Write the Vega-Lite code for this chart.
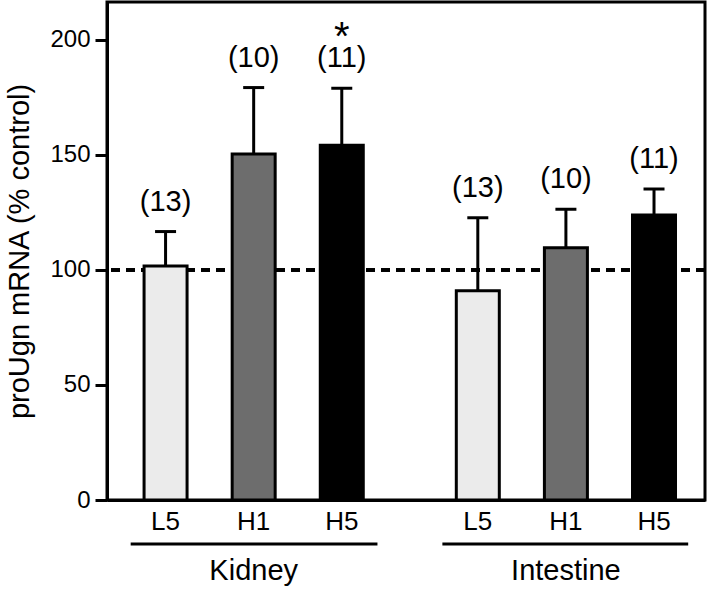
{
  "$schema": "https://vega.github.io/schema/vega-lite/v6.json",
  "width": 598,
  "height": 498,
  "autosize": {"type": "none"},
  "padding": {"left": 107, "top": 2, "right": 4, "bottom": 89},
  "background": "white",
  "config": {
    "font": "Liberation Sans",
    "view": {"stroke": "black", "strokeWidth": 3},
    "axis": {"grid": false}
  },
  "data": {
    "values": [
      {"group": "Kidney", "treatment": "L5", "pos": 0, "mean": 101.7, "upper": 116.7, "n": "(13)", "sig": ""},
      {"group": "Kidney", "treatment": "H1", "pos": 1, "mean": 150.4, "upper": 179.3, "n": "(10)", "sig": ""},
      {"group": "Kidney", "treatment": "H5", "pos": 2, "mean": 154.2, "upper": 179.0, "n": "(11)", "sig": "*"},
      {"group": "Intestine", "treatment": "L5", "pos": 3.544, "mean": 91.0, "upper": 122.7, "n": "(13)", "sig": ""},
      {"group": "Intestine", "treatment": "H1", "pos": 4.544, "mean": 109.7, "upper": 126.4, "n": "(10)", "sig": ""},
      {"group": "Intestine", "treatment": "H5", "pos": 5.544, "mean": 123.9, "upper": 135.2, "n": "(11)", "sig": ""}
    ]
  },
  "layer": [
    {
      "mark": {"type": "rule", "strokeDash": [9, 6], "strokeWidth": 3, "color": "black"},
      "encoding": {"y": {"datum": 100, "type": "quantitative"}}
    },
    {
      "mark": {"type": "bar", "stroke": "black", "strokeWidth": 3, "width": 43},
      "encoding": {
        "x": {
          "field": "pos", "type": "quantitative",
          "scale": {"domain": [-0.608, 6.066], "nice": false, "zero": false},
          "axis": {"labels": false, "ticks": false, "title": null, "domainColor": "black", "domainWidth": 3, "grid": false}
        },
        "y": {
          "field": "mean", "type": "quantitative",
          "scale": {"domain": [0, 216.5], "nice": false},
          "axis": {
            "title": "proUgn mRNA (% control)",
            "values": [0, 50, 100, 150, 200],
            "domainColor": "black", "domainWidth": 3,
            "tickColor": "black", "tickWidth": 3, "tickSize": 12,
            "labelFontSize": 24, "labelColor": "black", "labelPadding": 5,
            "titleFontSize": 29, "titleFontWeight": "normal", "titleColor": "black", "titlePadding": 15
          }
        },
        "color": {
          "field": "treatment", "type": "nominal",
          "scale": {"domain": ["L5", "H1", "H5"], "range": ["#ebebeb", "#6d6d6d", "#000000"]},
          "legend": null
        }
      }
    },
    {
      "mark": {"type": "rule", "strokeWidth": 3, "color": "black"},
      "encoding": {
        "x": {"field": "pos", "type": "quantitative"},
        "y": {"field": "mean", "type": "quantitative"},
        "y2": {"field": "upper"}
      }
    },
    {
      "mark": {"type": "tick", "orient": "horizontal", "size": 21, "thickness": 3, "color": "black", "opacity": 1},
      "encoding": {
        "x": {"field": "pos", "type": "quantitative"},
        "y": {"field": "upper", "type": "quantitative"}
      }
    },
    {
      "mark": {"type": "text", "fontSize": 29, "baseline": "alphabetic", "dy": -21, "color": "black"},
      "encoding": {
        "x": {"field": "pos", "type": "quantitative"},
        "y": {"field": "upper", "type": "quantitative"},
        "text": {"field": "n"}
      }
    },
    {
      "transform": [{"filter": "datum.sig != ''"}],
      "mark": {"type": "text", "fontSize": 40, "baseline": "alphabetic", "dy": -38, "color": "black"},
      "encoding": {
        "x": {"field": "pos", "type": "quantitative"},
        "y": {"field": "upper", "type": "quantitative"},
        "text": {"field": "sig"}
      }
    },
    {
      "mark": {"type": "text", "fontSize": 26, "baseline": "alphabetic", "color": "black"},
      "encoding": {
        "x": {"field": "pos", "type": "quantitative"},
        "y": {"datum": -13, "type": "quantitative"},
        "text": {"field": "treatment"}
      }
    },
    {
      "data": {"values": [
        {"group": "Kidney", "center": 1, "left": -0.396, "right": 2.405},
        {"group": "Intestine", "center": 4.544, "left": 3.142, "right": 5.932}
      ]},
      "layer": [
        {
          "mark": {"type": "rule", "strokeWidth": 3, "color": "black"},
          "encoding": {
            "x": {"field": "left", "type": "quantitative"},
            "x2": {"field": "right"},
            "y": {"datum": -19.1, "type": "quantitative"}
          }
        },
        {
          "mark": {"type": "text", "fontSize": 29, "baseline": "alphabetic", "color": "black"},
          "encoding": {
            "x": {"field": "center", "type": "quantitative"},
            "y": {"datum": -34.8, "type": "quantitative"},
            "text": {"field": "group"}
          }
        }
      ]
    }
  ]
}
